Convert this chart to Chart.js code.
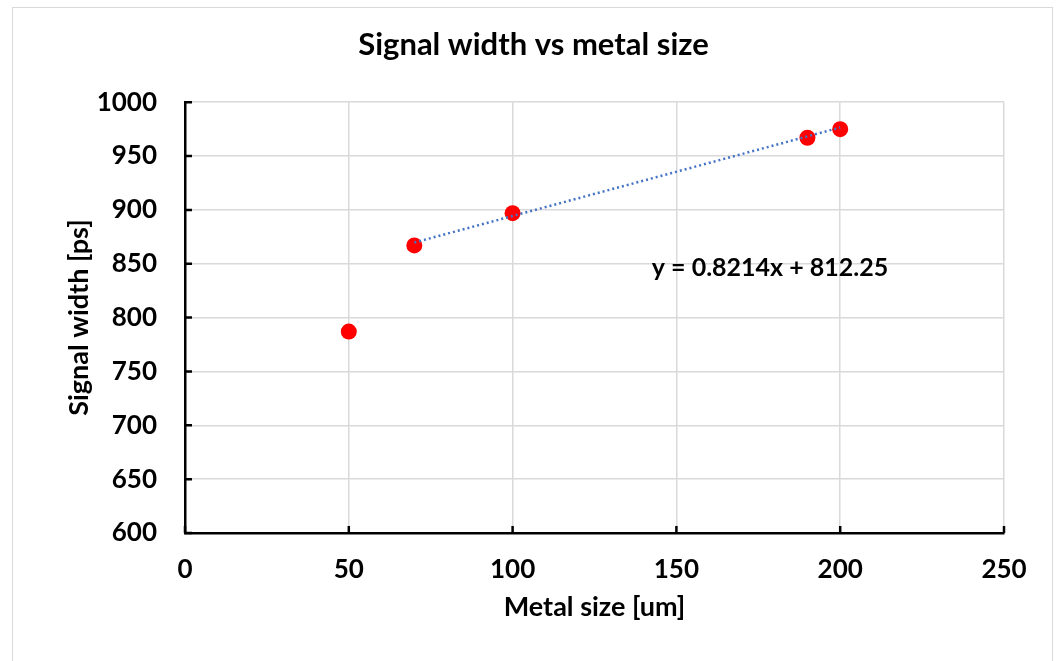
<!DOCTYPE html>
<html><head><meta charset="utf-8">
<script src="https://cdn.jsdelivr.net/npm/chart.js@4.4.0/dist/chart.umd.min.js"></script>
<style>html,body{margin:0;padding:0;background:#fff}#wrap{width:1059px;height:661px}</style>
</head><body><div id="wrap"><canvas id="c" width="1059" height="661"></canvas></div>
<script>
const metalSize = [50, 70, 100, 190, 200];
const signalWidth = [787, 867, 897, 967, 975];
const trendX = [70, 200];
const trendY = [869.7, 976.5];
const xTicks = [0, 50, 100, 150, 200, 250];
const yTicks = [600, 650, 700, 750, 800, 850, 900, 950, 1000];
const chartTitle = 'Signal width vs metal size';
const xTitle = 'Metal size [um]';
const yTitle = 'Signal width [ps]';
const equationText = 'y = 0.8214x + 812.25';
const equationPos = [142.5, 846];

const FONT = 'Lato';

const points = metalSize.map((x, i) => ({x, y: signalWidth[i]}));
const trend = trendX.map((x, i) => ({x, y: trendY[i]}));

const decor = {
  id: 'decor',
  beforeDraw(chart) {
    const ctx = chart.ctx;
    ctx.save();
    ctx.fillStyle = '#fff';
    ctx.fillRect(0, 0, chart.width, chart.height);
    ctx.strokeStyle = '#d9d9d9';
    ctx.lineWidth = 1;
    ctx.strokeRect(12.5, 7.5, 1040, 700);
    ctx.restore();
  },
  afterDraw(chart) {
    const ctx = chart.ctx;
    const xs = chart.scales.x, ys = chart.scales.y;
    const ca = chart.chartArea;
    ctx.save();
    ctx.strokeStyle = '#000';
    ctx.lineWidth = 2.5;
    ctx.beginPath();
    xTicks.forEach(v => {
      const px = xs.getPixelForValue(v);
      ctx.moveTo(px, ca.bottom);
      ctx.lineTo(px, ca.bottom - 7);
    });
    yTicks.forEach(v => {
      const py = ys.getPixelForValue(v);
      ctx.moveTo(ca.left, py);
      ctx.lineTo(ca.left + 7, py);
    });
    ctx.stroke();
    ctx.fillStyle = '#000';
    ctx.font = 'bold 25px ' + FONT;
    ctx.textAlign = 'left';
    ctx.textBaseline = 'middle';
    ctx.fillText(equationText, xs.getPixelForValue(equationPos[0]), ys.getPixelForValue(equationPos[1]));
    ctx.restore();
  }
};

new Chart(document.getElementById('c'), {
  type: 'scatter',
  data: {
    datasets: [
      {
        label: 'Signal width',
        data: points,
        backgroundColor: '#ff0000',
        borderWidth: 0,
        pointRadius: 8,
        order: 2
      },
      {
        type: 'line',
        label: 'Linear trend',
        data: trend,
        borderColor: '#4472c4',
        borderWidth: 2.5,
        borderDash: [2, 3],
        pointRadius: 0,
        fill: false,
        order: 1
      }
    ]
  },
  options: {
    responsive: false,
    animation: false,
    devicePixelRatio: 1,
    layout: { padding: { top: 11, left: 63, right: 55, bottom: 38 } },
    plugins: {
      legend: { display: false },
      tooltip: { enabled: false },
      title: {
        display: true,
        text: chartTitle,
        color: '#000',
        font: { family: FONT, size: 31, weight: 'bold', lineHeight: 1.2 },
        padding: { top: 15, bottom: 39 }
      }
    },
    scales: {
      x: {
        type: 'linear',
        min: 0, max: 250,
        afterBuildTicks: s => { s.ticks = xTicks.map(v => ({value: v})); },
        afterFit: s => { s.height = 90; },
        grid: {
          color: c => (c.tick && c.tick.value === 0) ? 'rgba(0,0,0,0)' : '#d9d9d9',
          lineWidth: 1.5,
          drawTicks: false
        },
        border: { display: true, color: '#000', width: 2.5 },
        ticks: { color: '#000', padding: 21, callback: v => String(v), font: { family: FONT, size: 26, weight: 'bold' } },
        title: { display: true, text: xTitle, color: '#000', padding: 0, font: { family: FONT, size: 27, weight: 'bold', lineHeight: 1.2 } }
      },
      y: {
        type: 'linear',
        min: 600, max: 1000,
        afterBuildTicks: s => { s.ticks = yTicks.map(v => ({value: v})); },
        afterFit: s => { s.width = 122; },
        grid: {
          color: c => (c.tick && c.tick.value === 600) ? 'rgba(0,0,0,0)' : '#d9d9d9',
          lineWidth: 1.5,
          drawTicks: false
        },
        border: { display: true, color: '#000', width: 2.5 },
        ticks: { color: '#000', padding: 28, callback: v => String(v), font: { family: FONT, size: 26, weight: 'bold' } },
        title: { display: true, text: yTitle, color: '#000', padding: 0, font: { family: FONT, size: 27, weight: 'bold', lineHeight: 1.2 } }
      }
    }
  },
  plugins: [decor]
});
</script>
</body></html>
